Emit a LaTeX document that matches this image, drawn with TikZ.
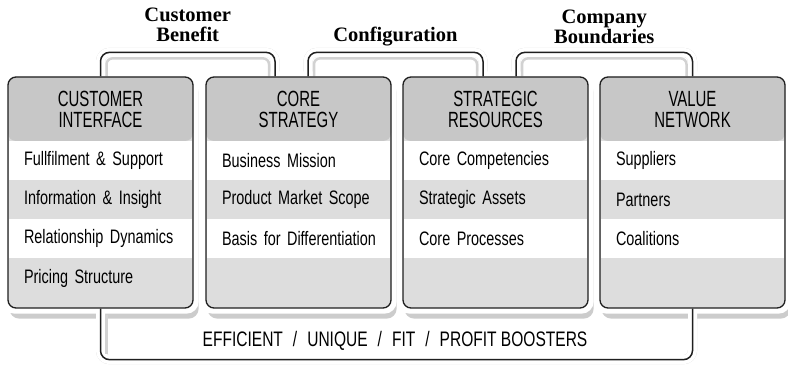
\documentclass[tikz,border=0pt]{standalone}
\usepackage{fontspec}
\setmainfont{Liberation Sans}
\newfontfamily\headfont{Liberation Sans}[FakeStretch=0.68]
\newfontfamily\rowfont{Liberation Sans}[FakeStretch=0.74]
\newfontfamily\tagfont{Liberation Serif}
\usetikzlibrary{positioning,calc,backgrounds}
\definecolor{headgray}{gray}{0.78}
\definecolor{rowgray}{gray}{0.865}
\definecolor{shadegray}{gray}{0.8}
\definecolor{inkline}{gray}{0.12}
\tikzset{
  frame style/.style={rectangle, rounded corners=8pt, draw=inkline, line width=1.3pt,
    fill=rowgray, minimum width=185pt, minimum height=231pt, inner sep=0pt,
    path picture={\fill[headgray] (path picture bounding box.north west)
      rectangle ([yshift=-64pt]path picture bounding box.north east);}},
  head style/.style={align=center, font=\headfont\fontsize{22}{20.5}\selectfont, inner sep=0pt},
  row style/.style={rectangle, minimum width=183pt, text width=160pt, minimum height=39pt,
    inner xsep=11.5pt, inner ysep=0pt, align=left, font=\rowfont\fontsize{19.5}{22}\selectfont,
    execute at begin node={\hspace*{3.5pt}}},
  tag style/.style={align=center, font=\tagfont\bfseries\fontsize{20.5}{20}\selectfont, inner sep=0pt},
  link style/.style={rounded corners=9pt, line width=1.5pt, draw=inkline},
  link halo/.style={rounded corners=9pt, line width=9pt, draw=white},
  link shade/.style={rounded corners=9pt, line width=9pt, draw=shadegray, shift={(3pt,-3pt)}},
  link inset/.style={rounded corners=6pt, line width=2.5pt, draw=gray!35}
}

\begin{document}
\begin{tikzpicture}[x=1pt, y=-1pt]
\useasboundingbox (0,0) rectangle (788,366);

% the four building blocks
\node[frame style] (ci) at (100.5,192.5) {};
\node[frame style] (cs) at (298.5,192.5) {};
\node[frame style] (sr) at (495.5,192.5) {};
\node[frame style] (vn) at (692.5,192.5) {};

\node[head style] (ci-head) at ([yshift=-33pt]ci.north) {CUSTOMER\\INTERFACE};
\node[head style] (cs-head) at ([yshift=-33pt]cs.north) {CORE\\STRATEGY};
\node[head style] (sr-head) at ([yshift=-33pt]sr.north) {STRATEGIC\\RESOURCES};
\node[head style] (vn-head) at ([yshift=-33pt]vn.north) {VALUE\\NETWORK};

\node[row style, fill=white, below=64pt of ci.north] (ci-r1) {Fullfilment \& Support};
\node[row style, fill=rowgray, below=0pt of ci-r1] (ci-r2) {Information \& Insight};
\node[row style, fill=white, below=0pt of ci-r2] (ci-r3) {Relationship Dynamics};
\node[row style, fill=rowgray, below=0pt of ci-r3] (ci-r4) {Pricing Structure};

\node[row style, fill=white, below=64pt of cs.north] (cs-r1) {Business Mission};
\node[row style, fill=rowgray, below=0pt of cs-r1] (cs-r2) {Product Market Scope};
\node[row style, fill=white, below=0pt of cs-r2] (cs-r3) {Basis for Differentiation};

\node[row style, fill=white, below=64pt of sr.north] (sr-r1) {Core Competencies};
\node[row style, fill=rowgray, below=0pt of sr-r1] (sr-r2) {Strategic Assets};
\node[row style, fill=white, below=0pt of sr-r2] (sr-r3) {Core Processes};

\node[row style, fill=white, below=64pt of vn.north] (vn-r1) {Suppliers};
\node[row style, fill=rowgray, below=0pt of vn-r1] (vn-r2) {Partners};
\node[row style, fill=white, below=0pt of vn-r2] (vn-r3) {Coalitions};

% bracket feet
\coordinate (k1a) at (ci.north);
\coordinate (k1b) at ($(cs.north)+(-23.5,0)$);
\coordinate (k2a) at ($(cs.north)+(9.5,0)$);
\coordinate (k2b) at ($(sr.north)+(-12.5,0)$);
\coordinate (k3a) at ($(sr.north)+(20.5,0)$);
\coordinate (k3b) at (vn.north);
\coordinate (k4a) at (ci.south);
\coordinate (k4b) at (vn.south);

\node[tag style, above=10pt] (t-benefit) at ([yshift=24pt]$(k1a)!0.5!(k1b)$) {Customer\\Benefit};
\node[tag style, above=6pt] (t-config) at ([yshift=24pt]$(k2a)!0.5!(k2b)$) {Configuration};
\node[tag style, above=8pt] (t-bounds) at ([yshift=24pt]$(k3a)!0.5!(k3b)$) {Company\\Boundaries};

\node[font=\rowfont\fontsize{21}{22}\selectfont, inner sep=0pt, anchor=base] (boosters) at (395,347)
  {EFFICIENT\hspace{10pt}/\hspace{10pt}UNIQUE\hspace{10pt}/\hspace{10pt}FIT\hspace{10pt}/\hspace{10pt}PROFIT BOOSTERS};

\begin{scope}[on background layer]
% soft shadows
\draw[link shade] (k1a) -- ([yshift=24pt]k1a) -- ([yshift=24pt]k1b) -- (k1b);
\draw[link shade] (k2a) -- ([yshift=24pt]k2a) -- ([yshift=24pt]k2b) -- (k2b);
\draw[link shade] (k3a) -- ([yshift=24pt]k3a) -- ([yshift=24pt]k3b) -- (k3b);
\draw[link shade] (k4a) -- ([yshift=-51pt]k4a) -- ([yshift=-51pt]k4b) -- (k4b);
\foreach \b in {ci,cs,sr,vn}
  \fill[shadegray, rounded corners=10pt] ([shift={(2pt,-6pt)}]\b.north west)
    rectangle ([shift={(5pt,-10pt)}]\b.south east);
% white halos
\foreach \b in {ci,cs,sr,vn}
  \fill[white, rounded corners=12pt] ([shift={(-5pt,5pt)}]\b.north west)
    rectangle ([shift={(5pt,-5pt)}]\b.south east);
\draw[link halo] (k1a) -- ([yshift=24pt]k1a) -- ([yshift=24pt]k1b) -- (k1b);
\draw[link halo] (k2a) -- ([yshift=24pt]k2a) -- ([yshift=24pt]k2b) -- (k2b);
\draw[link halo] (k3a) -- ([yshift=24pt]k3a) -- ([yshift=24pt]k3b) -- (k3b);
\draw[link halo] (k4a) -- ([yshift=-51pt]k4a) -- ([yshift=-51pt]k4b) -- (k4b);
% inner grey edge
\draw[link inset] ([xshift=6pt]k1a) -- ([shift={(6pt,18pt)}]k1a) -- ([shift={(-6pt,18pt)}]k1b) -- ([xshift=-6pt]k1b);
\draw[link inset] ([xshift=6pt]k2a) -- ([shift={(6pt,18pt)}]k2a) -- ([shift={(-6pt,18pt)}]k2b) -- ([xshift=-6pt]k2b);
\draw[link inset] ([xshift=6pt]k3a) -- ([shift={(6pt,18pt)}]k3a) -- ([shift={(-6pt,18pt)}]k3b) -- ([xshift=-6pt]k3b);
\draw[link inset] ([shift={(6pt,-6pt)}]k4a) -- ([shift={(6pt,-45pt)}]k4a);
% brackets
\draw[link style] (k1a) -- ([yshift=24pt]k1a) -- ([yshift=24pt]k1b) -- (k1b);
\draw[link style] (k2a) -- ([yshift=24pt]k2a) -- ([yshift=24pt]k2b) -- (k2b);
\draw[link style] (k3a) -- ([yshift=24pt]k3a) -- ([yshift=24pt]k3b) -- (k3b);
\draw[link style] (k4a) -- ([yshift=-51pt]k4a) -- ([yshift=-51pt]k4b) -- (k4b);
\end{scope}
\end{tikzpicture}
\end{document}
